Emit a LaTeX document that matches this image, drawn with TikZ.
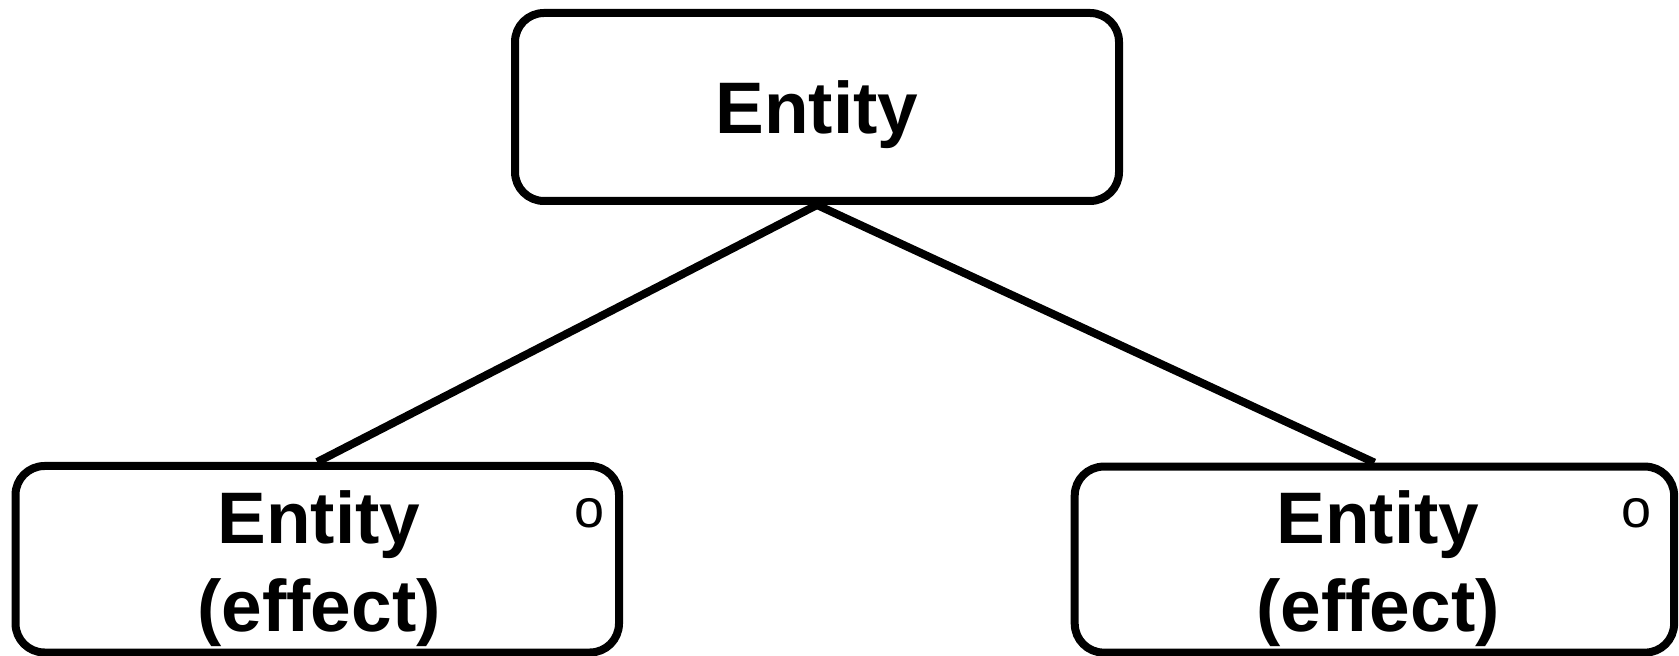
\documentclass[tikz,border=0pt]{standalone}
\usepackage{fontspec}
\setmainfont{Liberation Sans}
\usetikzlibrary{backgrounds}
\begin{document}
\tikzset{
  box/.style={draw, fill=white, line width=4pt, rounded corners=14.5pt, minimum width=302pt, minimum height=94pt, inner sep=0pt},
  lbl/.style={font=\fontsize{36.5}{44}\selectfont\bfseries, anchor=base, inner sep=0pt},
  cornerlbl/.style={font=\fontsize{27}{30}\selectfont, anchor=base, inner sep=0pt},
  link/.style={line width=4pt}
}
\begin{tikzpicture}[x=0.5pt,y=-0.5pt]
\useasboundingbox (0,0) rectangle (1679,656);
\node[box] (top) at (817,107) {};
\node[box, minimum width=301.75pt, minimum height=93.25pt] (left) at (317.25,559.25) {};
\node[box, minimum width=299.7pt, minimum height=93pt] (right) at (1374.4,559.6) {};
\begin{scope}[on background layer]
\draw[link] (top.south) -- (left.north);
\draw[link] (top.south) -- (right.north);
\end{scope}
\node[lbl] (toptext) at (817,134) {Entity};
\node[lbl] (lefta) at (319,544) {Entity};
\node[lbl] (leftb) at (319,632) {(effect)};
\node[lbl] (righta) at (1378,544) {Entity};
\node[lbl] (rightb) at (1378,632) {(effect)};
\node[cornerlbl] (lefto) at (589.5,528) {o};
\node[cornerlbl] (righto) at (1636,528) {o};
\end{tikzpicture}
\end{document}
